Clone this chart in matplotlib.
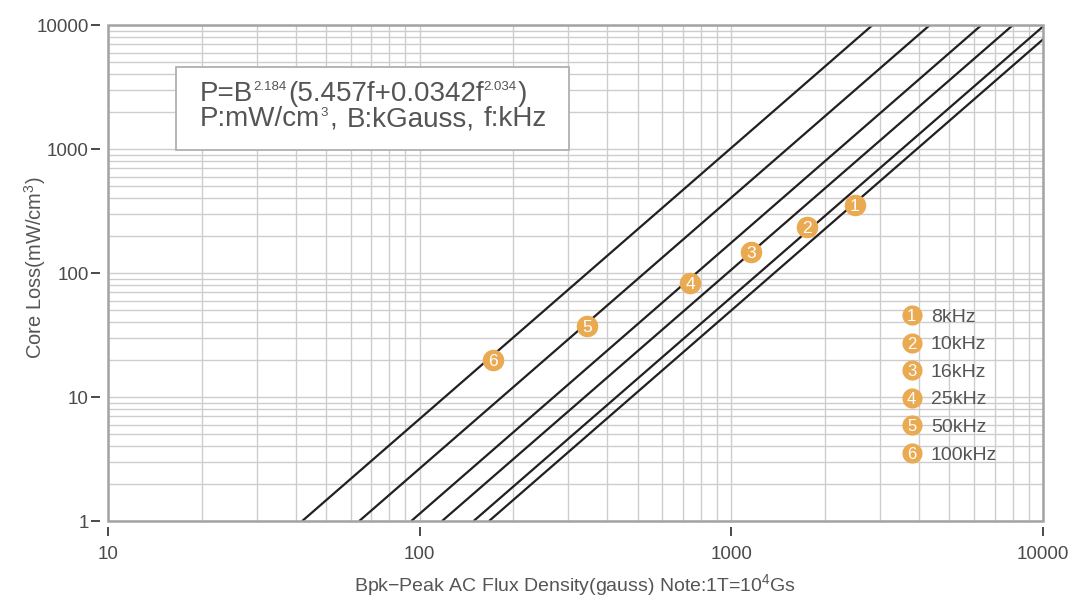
import matplotlib
matplotlib.use('Agg')
import matplotlib.pyplot as plt
from matplotlib.patches import Rectangle
from matplotlib.ticker import LogLocator, FixedLocator, FixedFormatter, NullFormatter

plt.rcParams['font.family'] = ['Liberation Sans', 'DejaVu Sans']
plt.rcParams['mathtext.fontset'] = 'custom'
plt.rcParams['mathtext.rm'] = 'Liberation Sans'
plt.rcParams['mathtext.it'] = 'Liberation Sans'
plt.rcParams['mathtext.bf'] = 'Liberation Sans'

# ---------------- data ----------------
freq_labels = ['8kHz', '10kHz', '16kHz', '25kHz', '50kHz', '100kHz']
curve_ids = ['1', '2', '3', '4', '5', '6']
# flux density (gauss) where each curve meets 1 and 10000 mW/cm3
b_at_loss_1 = [167, 149, 118, 94, 64, 42]
b_at_loss_10000 = [11300, 10130, 8010, 6350, 4335, 2840]
loss_ends = [1, 10000]
# numbered badge positions on each curve
badge_b = [2490, 1745, 1160, 737, 344, 172]
badge_loss = [354, 234, 147, 83, 37.4, 19.9]

x_ticks = [10, 100, 1000, 10000]
x_tick_labels = ['10', '100', '1000', '10000']
y_ticks = [1, 10, 100, 1000, 10000]
y_tick_labels = ['1', '10', '100', '1000', '10000']

# formula text pieces: (text, is_superscript, extra gap after in px)
formula_line1 = [('P=B', False, 0), ('2.184', True, 1.5), ('(5.457f+0.0342f', False, 0),
                 ('2.034', True, 1.5), (')', False, 0)]
formula_line2 = [('P:mW/cm', False, 0), ('3', True, 1.5), (',', False, 9.5),
                 ('B:kGauss,', False, 9.5), ('f:kHz', False, 0)]
x_label = r'Bpk−Peak AC Flux Density(gauss) Note:1T=10$^{4}$Gs'
y_label = r'Core Loss(mW/cm$^{3}$)'

# ---------------- style ----------------
W, H = 1070, 597
LINE_COLOR = '#231f20'
BADGE_COLOR = '#EAAA52'
GRID_COLOR = '#cdcdcd'
FRAME_COLOR = '#a3a3a3'
TEXT_COLOR = '#555555'

fig = plt.figure(figsize=(W / 100, H / 100), dpi=100)
ax = fig.add_axes([108 / W, 1 - 521 / H, (1043 - 108) / W, (521 - 25) / H])
ax.set_xscale('log')
ax.set_yscale('log')
ax.set_xlim(10, 10000)
ax.set_ylim(1, 10000)

ax.xaxis.set_major_locator(FixedLocator(x_ticks))
ax.xaxis.set_major_formatter(FixedFormatter(x_tick_labels))
ax.yaxis.set_major_locator(FixedLocator(y_ticks))
ax.yaxis.set_major_formatter(FixedFormatter(y_tick_labels))
ax.xaxis.set_minor_locator(LogLocator(base=10, subs=range(2, 10)))
ax.yaxis.set_minor_locator(LogLocator(base=10, subs=range(2, 10)))
ax.xaxis.set_minor_formatter(NullFormatter())
ax.yaxis.set_minor_formatter(NullFormatter())

ax.grid(True, which='both', color=GRID_COLOR, lw=1.0, zorder=0)
ax.set_axisbelow(True)

for s in ax.spines.values():
    s.set_visible(False)
ax.spines['left'].set_position(('outward', 5.8))
ax.spines['bottom'].set_position(('outward', 4.3))

ax.tick_params(axis='both', which='minor', length=0)
ax.tick_params(axis='y', which='major', direction='out', length=6.5, width=1.3,
               color='#3a3a3a', pad=1.5, labelsize=13.5, labelcolor='#4a4a4a')
ax.tick_params(axis='x', which='major', direction='out', length=6.5, width=1.3,
               color='#3a3a3a', pad=7, labelsize=13.5, labelcolor='#4a4a4a')

ax.add_patch(Rectangle((0, 0), 1, 1, transform=ax.transAxes, fill=False,
                       edgecolor=FRAME_COLOR, lw=1.8, clip_on=False, zorder=4))

# curves
for b0, b1 in zip(b_at_loss_1, b_at_loss_10000):
    ax.plot([b0, b1], loss_ends, color=LINE_COLOR, lw=1.6, zorder=3,
            solid_capstyle='butt')

# badges on curves
for cid, bx, by in zip(curve_ids, badge_b, badge_loss):
    ax.plot([bx], [by], marker='o', ms=15.5, mfc=BADGE_COLOR, mec='none', zorder=5)
    ax.text(bx, by, cid, color='white', fontsize=12.5, ha='center', va='center_baseline',
            zorder=6)

# formula box
ax.add_patch(Rectangle((0.0724, 0.748), 0.421, 0.168, transform=ax.transAxes,
                       facecolor='white', edgecolor='#b0b0b0', lw=1.3, zorder=6))

renderer = fig.canvas.get_renderer()


def rich_line(x_px, base_px, pieces, size, sup_size, sup_raise):
    x = x_px
    for txt, sup, gap in pieces:
        fs = sup_size if sup else size
        yb = base_px - (sup_raise if sup else 0)
        t = fig.text(x / W, 1 - yb / H, txt, fontsize=fs, color=TEXT_COLOR,
                     ha='left', va='baseline')
        bb = t.get_window_extent(renderer)
        x += bb.width + gap


rich_line(200, 101, formula_line1, 20, 9.5, 11)
rich_line(200, 126.5, formula_line2, 20, 9.5, 11)

# legend
leg_x = (911.7 - 108) / 935
leg_tx = (931 - 108) / 935
leg_y0 = (521 - 315) / 496
leg_dy = 27.6 / 496
for i, (cid, lab) in enumerate(zip(curve_ids, freq_labels)):
    yy = leg_y0 - i * leg_dy
    ax.plot([leg_x], [yy], transform=ax.transAxes, marker='o', ms=14.5,
            mfc=BADGE_COLOR, mec='none', zorder=5, clip_on=False)
    ax.text(leg_x, yy, cid, transform=ax.transAxes, color='white', fontsize=12,
            ha='center', va='center_baseline', zorder=6)
    ax.text(leg_tx, yy, lab, transform=ax.transAxes, color=TEXT_COLOR, fontsize=14,
            ha='left', va='center_baseline', zorder=6)

fig.text(575.5 / W, 1 - 585 / H, x_label, ha='center', va='center',
         fontsize=14, color=TEXT_COLOR)
fig.text(35 / W, 1 - 268 / H, y_label, ha='center', va='center', rotation=90,
         fontsize=14.5, color=TEXT_COLOR)

fig.savefig('out.png', dpi=100)
